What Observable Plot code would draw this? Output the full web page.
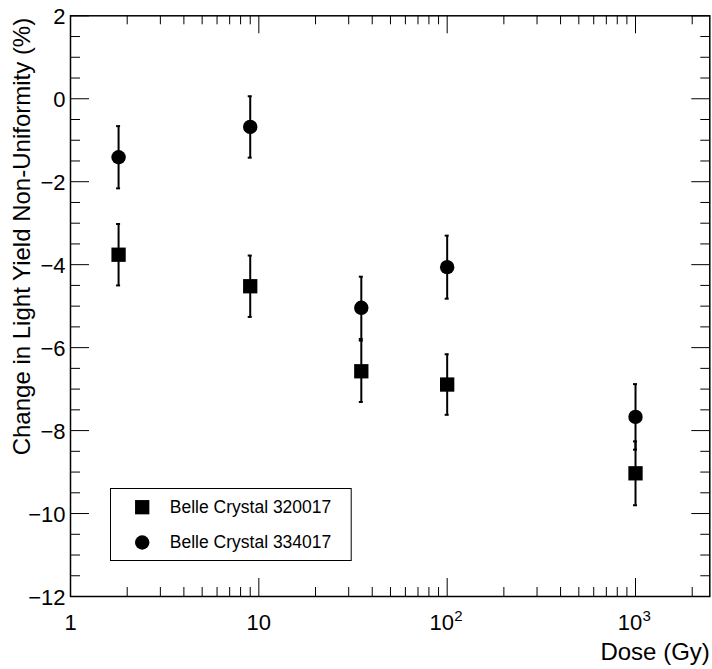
<!DOCTYPE html>
<html><head><meta charset="utf-8">
<script src="https://cdn.jsdelivr.net/npm/d3@7"></script>
<script src="https://cdn.jsdelivr.net/npm/@observablehq/plot@0.6"></script>
<style>html,body{margin:0;padding:0;background:#fff} svg{display:block}</style>
</head><body><div id="chart"></div>
<script>
// ---- data ----
const doses = [1.8, 9, 35, 100, 1000];
const seriesNames = ["Belle Crystal 320017", "Belle Crystal 334017"];
const values320017 = [-3.76, -4.52, -6.57, -6.89, -9.03];
const errors320017 = [0.74, 0.74, 0.74, 0.73, 0.77];
const values334017 = [-1.41, -0.68, -5.04, -4.06, -7.67];
const errors334017 = [0.75, 0.74, 0.75, 0.76, 0.79];

// ---- axes ----
const xMajorTicks = [1, 10, 100, 1000];
const xMinorTicks = [2,3,4,5,6,7,8,9,20,30,40,50,60,70,80,90,200,300,400,500,600,700,800,900,2000];
const xTickBase = ["1", "10", "10", "10"];
const xTickExp = ["", "", "2", "3"];
const yMajorTicks = [-12, -10, -8, -6, -4, -2, 0, 2];
const yMinorTicks = [-11.5,-11,-10.5,-9.5,-9,-8.5,-7.5,-7,-6.5,-5.5,-5,-4.5,-3.5,-3,-2.5,-1.5,-1,-0.5,0.5,1,1.5];
const xTitle = "Dose (Gy)";
const yTitle = "Change in Light Yield Non-Uniformity (%)";

const rowsA = doses.map((d, i) => ({dose: d, value: values320017[i], err: errors320017[i]}));
const rowsB = doses.map((d, i) => ({dose: d, value: values334017[i], err: errors334017[i]}));
const allRows = rowsA.concat(rowsB);

const xLabels = xMajorTicks.map((t, i) => ({t, base: xTickBase[i], exp: xTickExp[i]}));
const xPlain = xLabels.filter(d => !d.exp);
const xPow = xLabels.filter(d => d.exp);

const W = 712, H = 669, mL = 70, mR = 2.7, mT = 15.3, mB = 73;
const innerW = W - mL - mR, innerH = H - mT - mB;
const font = "Liberation Sans, Arial, Helvetica, sans-serif";

const chart = Plot.plot({
  width: W, height: H,
  marginLeft: mL, marginRight: mR, marginTop: mT, marginBottom: mB,
  style: {fontFamily: font, background: "white", color: "black"},
  x: {type: "log", domain: [1, 2480], axis: null},
  y: {domain: [-12, 2], axis: null},
  marks: [
    // ticks bottom/top
    Plot.tickX(xMajorTicks, {x: d => d, insetTop: innerH - 18, stroke: "black", strokeWidth: 1}),
    Plot.tickX(xMinorTicks, {x: d => d, insetTop: innerH - 9, stroke: "black", strokeWidth: 1}),
    Plot.tickX(xMajorTicks, {x: d => d, insetBottom: innerH - 18, stroke: "black", strokeWidth: 1}),
    Plot.tickX(xMinorTicks, {x: d => d, insetBottom: innerH - 9, stroke: "black", strokeWidth: 1}),
    // ticks left/right
    Plot.tickY(yMajorTicks, {y: d => d, insetRight: innerW - 19, stroke: "black", strokeWidth: 1}),
    Plot.tickY(yMinorTicks, {y: d => d, insetRight: innerW - 10, stroke: "black", strokeWidth: 1}),
    Plot.tickY(yMajorTicks, {y: d => d, insetLeft: innerW - 18, stroke: "black", strokeWidth: 1}),
    Plot.tickY(yMinorTicks, {y: d => d, insetLeft: innerW - 9, stroke: "black", strokeWidth: 1}),
    Plot.frame({stroke: "black", strokeWidth: 1.5}),
    // error bars
    Plot.ruleX(allRows, {x: "dose", y1: d => d.value - d.err, y2: d => d.value + d.err, stroke: "black", strokeWidth: 2}),
    Plot.ruleY(allRows, {y: d => d.value - d.err, x1: "dose", x2: "dose", insetLeft: -2, insetRight: -2, stroke: "black", strokeWidth: 2}),
    Plot.ruleY(allRows, {y: d => d.value + d.err, x1: "dose", x2: "dose", insetLeft: -2, insetRight: -2, stroke: "black", strokeWidth: 2}),
    // markers
    Plot.dot(rowsA, {x: "dose", y: "value", symbol: "square", r: 8.07, fill: "black", stroke: "none"}),
    Plot.dot(rowsB, {x: "dose", y: "value", symbol: "circle", r: 7.2, fill: "black", stroke: "none"}),
    // legend
    Plot.frame({insetLeft: 110 - mL, insetRight: (W - mR) - 350.7, insetTop: 488 - mT, insetBottom: (H - mB) - 560, stroke: "black", strokeWidth: 1, fill: "white"}),
    Plot.dot([seriesNames[0]], {frameAnchor: "top-left", dx: 141.7 - mL, dy: 506.7 - mT, symbol: "square", r: 8.07, fill: "black", stroke: "none"}),
    Plot.dot([seriesNames[1]], {frameAnchor: "top-left", dx: 141.7 - mL, dy: 542 - mT, symbol: "circle", r: 7.2, fill: "black", stroke: "none"}),
    Plot.text([seriesNames[0]], {text: d => d, frameAnchor: "top-left", dx: 169.3 - mL, dy: 506.7 - mT, textAnchor: "start", lineAnchor: "middle", fontSize: 17.5, fill: "black"}),
    Plot.text([seriesNames[1]], {text: d => d, frameAnchor: "top-left", dx: 169.3 - mL, dy: 542 - mT, textAnchor: "start", lineAnchor: "middle", fontSize: 17.5, fill: "black"}),
    // y tick labels
    Plot.text(yMajorTicks, {y: d => d, text: d => (d < 0 ? "\u2212" + Math.abs(d) : String(d)), frameAnchor: "left", dx: -5, dy: 1, textAnchor: "end", lineAnchor: "middle", fontSize: 22, fill: "black"}),
    // x tick labels
    Plot.text(xPlain, {x: "t", text: "base", frameAnchor: "bottom", dy: 26, textAnchor: "middle", lineAnchor: "middle", fontSize: 22, fill: "black"}),
    Plot.text(xPow, {x: "t", text: "base", frameAnchor: "bottom", dx: -5.5, dy: 26, textAnchor: "middle", lineAnchor: "middle", fontSize: 22, fill: "black"}),
    Plot.text(xPow, {x: "t", text: "exp", frameAnchor: "bottom", dx: 7, dy: 20, textAnchor: "start", lineAnchor: "middle", fontSize: 15, fill: "black"}),
    // titles
    Plot.text([xTitle], {text: d => d, frameAnchor: "bottom-right", dy: 55.7, textAnchor: "end", lineAnchor: "middle", fontSize: 24, fill: "black"}),
    Plot.text([yTitle], {text: d => d, frameAnchor: "top-left", rotate: -90, dx: -48, dy: 2, textAnchor: "end", lineAnchor: "middle", fontSize: 24, fill: "black"})
  ]
});
document.getElementById("chart").appendChild(chart);
</script>
</body></html>
